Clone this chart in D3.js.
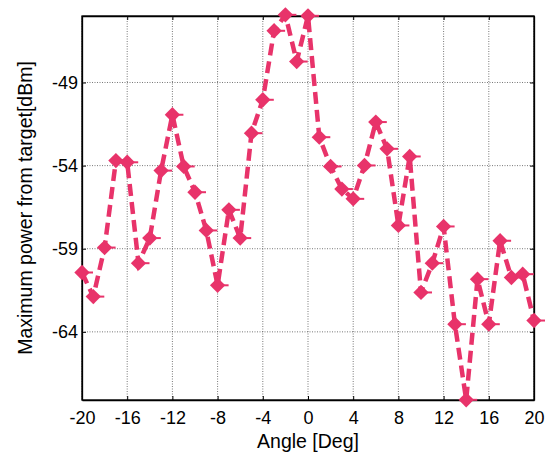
<!DOCTYPE html>
<html><head><meta charset="utf-8">
<script src="https://cdn.jsdelivr.net/npm/d3@7"></script>
<style>body{margin:0;background:#fff}svg{display:block}</style>
</head><body>
<script>
const angles = d3.range(-20, 21, 1);
const power = [-60.43,-61.88,-58.93,-53.7,-53.8,-59.87,-58.36,-54.3,-50.94,-54.05,-55.6,-57.9,-61.2,-56.66,-58.36,-52.05,-50.04,-45.89,-44.93,-47.74,-44.99,-52.29,-54.05,-55.41,-56.0,-53.99,-51.38,-52.99,-57.6,-53.45,-61.63,-59.87,-57.66,-63.54,-68.09,-60.83,-63.54,-58.52,-60.73,-60.53,-63.32];
const xTicks = [-20,-16,-12,-8,-4,0,4,8,12,16,20];
const yTicks = [-49,-54,-59,-64];

const W=556,H=461;
const m={l:82,r:22,t:16,b:61};
const svg=d3.select("body").append("svg").attr("width",W).attr("height",H);
const x=d3.scaleLinear().domain([-20,20]).range([m.l,W-m.r]);
const y=d3.scaleLinear().domain([-68.1,-45]).range([H-m.b,m.t]);
const font="Liberation Sans, Arial, sans-serif";
const fmt=d=>String(d).replace("\u2212","-");

// grid
const g=svg.append("g");
g.selectAll("line.vx").data(xTicks).enter().append("line")
 .attr("x1",d=>x(d)).attr("x2",d=>x(d)).attr("y1",m.t).attr("y2",H-m.b)
 .attr("stroke","#555").attr("stroke-width",0.8).attr("stroke-dasharray","1,1.5");
g.selectAll("line.hy").data(yTicks).enter().append("line")
 .attr("y1",d=>y(d)).attr("y2",d=>y(d)).attr("x1",m.l).attr("x2",W-m.r)
 .attr("stroke","#555").attr("stroke-width",0.8).attr("stroke-dasharray","1,1.5");

// axes
const xb=svg.append("g").attr("transform",`translate(0,${H-m.b})`)
 .call(d3.axisBottom(x).tickValues(xTicks).tickSizeInner(-4).tickSizeOuter(0).tickPadding(11).tickFormat(fmt));
const xt=svg.append("g").attr("transform",`translate(0,${m.t})`)
 .call(d3.axisTop(x).tickValues(xTicks).tickSizeInner(-4).tickSizeOuter(0).tickFormat(""));
const yl=svg.append("g").attr("transform",`translate(${m.l},0)`)
 .call(d3.axisLeft(y).tickValues(yTicks).tickSizeInner(-4).tickSizeOuter(0).tickPadding(4).tickFormat(fmt));
const yr=svg.append("g").attr("transform",`translate(${W-m.r},0)`)
 .call(d3.axisRight(y).tickValues(yTicks).tickSizeInner(-4).tickSizeOuter(0).tickFormat(""));
[xb,xt,yl,yr].forEach(a=>{
  a.selectAll("path").attr("stroke","#000").attr("stroke-width",1.3);
  a.selectAll("line").attr("stroke","#000");
  a.selectAll("text").attr("font-family",font).attr("font-size",18).attr("fill","#000");
});
// full box
svg.append("rect").attr("x",m.l).attr("y",m.t).attr("width",W-m.l-m.r).attr("height",H-m.t-m.b)
 .attr("fill","none").attr("stroke","#000").attr("stroke-width",1.3);

// line
const col="#E8336A";
const pts=angles.map((a,i)=>[a,power[i]]);
svg.append("path").datum(pts)
 .attr("d",d3.line().x(d=>x(d[0])).y(d=>y(d[1])))
 .attr("fill","none").attr("stroke",col).attr("stroke-width",4.5)
 .attr("stroke-dasharray","12,6");
svg.selectAll("path.mk").data(pts).enter().append("path")
 .attr("transform",d=>`translate(${x(d[0])},${y(d[1])})`)
 .attr("d",d3.symbol(d3.symbolDiamond2,150)())
 .attr("fill",col);
svg.selectAll("rect.mk").data(pts).enter().append("rect")
 .attr("x",d=>x(d[0])+4).attr("y",d=>y(d[1])-1).attr("width",7).attr("height",2).attr("fill",col);

// labels
svg.append("text").attr("x",(m.l+W-m.r)/2).attr("y",448).attr("text-anchor","middle")
 .attr("font-family",font).attr("font-size",19.5).text("Angle [Deg]");
svg.append("text").attr("transform",`translate(32,${(m.t+H-m.b)/2}) rotate(-90)`).attr("text-anchor","middle")
 .attr("font-family",font).attr("font-size",19.5).text("Maximum power from target[dBm]");
</script>
</body></html>
